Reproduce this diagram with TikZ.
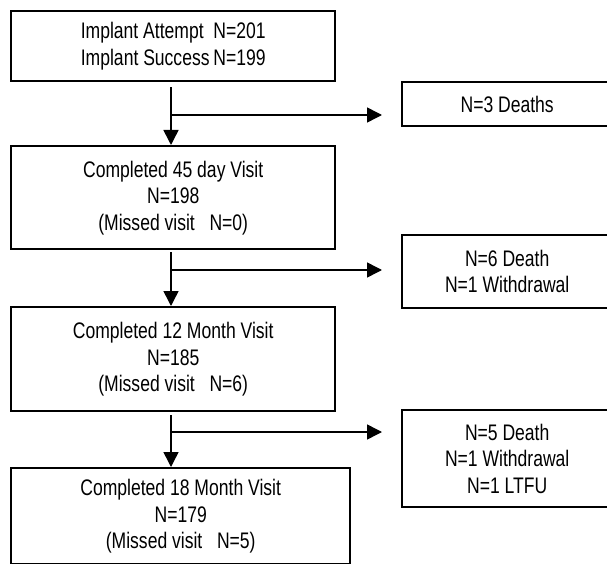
\documentclass[tikz,border=0pt]{standalone}
\usepackage{fontspec}
\setmainfont{Liberation Sans}[FakeStretch=0.78]
\usetikzlibrary{arrows.meta}
\tikzset{
  stagebox/.style={draw=black, line width=2.4pt, rectangle, anchor=north west, inner sep=0pt, align=center,
    font=\fontsize{22.5}{26.5}\selectfont},
  conn/.style={draw=black, line width=1.5pt},
  arr/.style={conn, -{Triangle[length=15pt,width=15pt]}}
}
\begin{document}
\begin{tikzpicture}[x=1pt,y=-1pt]
\useasboundingbox[fill=white] (0,0) rectangle (607,564);
\node[stagebox, minimum width=324pt, minimum height=70pt] (b1) at (10,10)
  {Implant Attempt~~N=201\\Implant Success\,N=199};
\node[stagebox, minimum width=324pt, minimum height=103pt] (b2) at (10,145)
  {Completed 45 day Visit\\N=198\\(Missed visit~~ N=0)};
\node[stagebox, minimum width=324pt, minimum height=104pt] (b3) at (10,306)
  {Completed 12 Month Visit\\N=185\\(Missed visit~~ N=6)};
\node[stagebox, minimum width=339pt, minimum height=96pt] (b4) at (10,467)
  {Completed 18 Month Visit\\N=179\\(Missed visit~~ N=5)};
\node[stagebox, minimum width=210pt, minimum height=44pt] (r1) at (401,81)
  {N=3 Deaths};
\node[stagebox, minimum width=210pt, minimum height=73pt] (r2) at (401,234)
  {N=6 Death\\N=1 Withdrawal};
\node[stagebox, minimum width=210pt, minimum height=97pt] (r3) at (401,409)
  {N=5 Death\\N=1 Withdrawal\\N=1 LTFU};
% connectors
\coordinate (j1) at (171,115);
\coordinate (j2) at (171,270);
\coordinate (j3) at (171,432);
\draw[arr] ([yshift=-5pt]b1.south -| j1) -- (b2.north -| j1);
\draw[arr] ([yshift=-2pt]b2.south -| j2) -- (b3.north -| j2);
\draw[arr] ([yshift=-3pt]b3.south -| j3) -- (b4.north -| j3);
\draw[arr, shorten >=19pt] (j1) -- (j1 -| r1.west);
\draw[arr, shorten >=19pt] (j2) -- (j2 -| r2.west);
\draw[arr, shorten >=19pt] (j3) -- (j3 -| r3.west);
\end{tikzpicture}
\end{document}
